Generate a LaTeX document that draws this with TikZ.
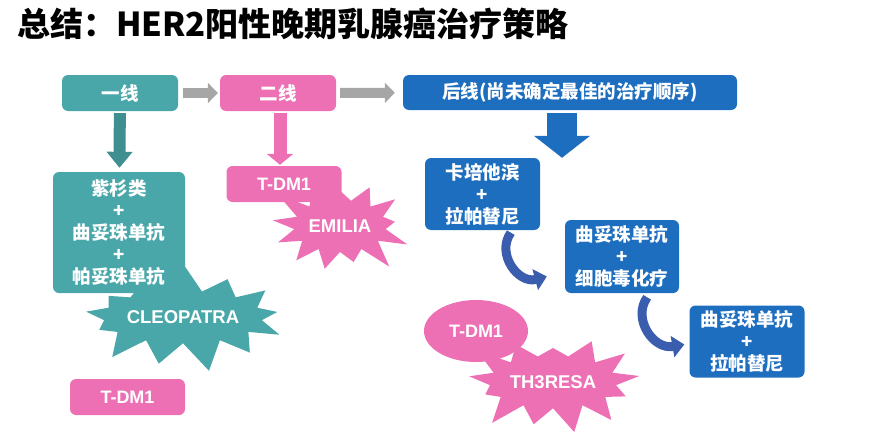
\documentclass[tikz,border=0pt]{standalone}
\usepackage{fontspec}
\setmainfont{Liberation Sans}
\newfontfamily\cjk{Noto Sans CJK SC}
\usepackage{tikz}
\usetikzlibrary{shapes.geometric,shapes.symbols,positioning,arrows.meta}
\definecolor{tealc}{HTML}{4AA7A9}
\definecolor{pinkc}{HTML}{EE70B4}
\definecolor{bluec}{HTML}{1E6EBF}
\definecolor{grayc}{HTML}{A6A6A6}
\definecolor{curvec}{HTML}{3A5DAE}
\tikzset{
 bx/.style
  = {rectangle, rounded corners=6pt, text=white, align=center, inner sep=0pt,
     font=\cjk\bfseries\fontsize{18.5}{22}\selectfont},
 tb/.style
  = {bx, fill=tealc},
 pb/.style
  = {bx, fill=pinkc},
 bb/.style
  = {bx, fill=bluec},
 lt/.style
  = {font=\bfseries\fontsize{18}{22}\selectfont},
 sb/.style
  = {starburst, starburst points=13, starburst point height=30pt, text=white,
     inner xsep=0pt, inner ysep=12pt, font=\bfseries\fontsize{18.5}{22}\selectfont},
 ga/.style
  = {draw=grayc, line width=10pt, -{Triangle[length=10pt,width=20pt]}},
 ta/.style
  = {draw=tealc!85!black, line width=12pt, -{Triangle[length=16pt,width=25pt]}},
 pa/.style
  = {draw=pinkc, line width=13pt, -{Triangle[length=11pt,width=26pt]}},
 ba/.style
  = {draw=bluec, line width=30pt, -{Triangle[length=22pt,width=55pt]}},
 ca/.style
  = {draw=curvec, line width=9pt, -{Triangle[length=12pt,width=21pt]}},
}

\begin{document}
\begin{tikzpicture}[x=1pt, y=-1pt]
    \useasboundingbox (0,0) rectangle (875,447);
    \node [anchor=west, inner sep=0pt, font=\cjk\bfseries\fontsize{33}{36}\selectfont] (title) at (17,24) {总结：HER2阳性晚期乳腺癌治疗策略};

    % top row
    \node [tb, minimum width=116pt, minimum height=36pt] (first) at (120,93) {一线};
    \node [pb, minimum width=116pt, minimum height=36pt] (second) at (278,93) {二线};
    \node [bb, minimum width=334pt, minimum height=35pt] (later) at (570,92.5) {后线(尚未确定最佳的治疗顺序)};

    % regimens
    \node [tb, minimum width=132pt, minimum height=121pt] (taxane) at (119,232.5) {紫杉类\\+\\曲妥珠单抗\\+\\帕妥珠单抗};
    \node [pb, lt, minimum width=115pt, minimum height=36pt] (tdmA) at (127.5,397) {T-DM1};
    \node [pb, lt, minimum width=115pt, minimum height=36pt] (tdmB) at (284,184) {T-DM1};
    \node [bb, minimum width=115pt, minimum height=72pt] (cape) at (482.5,194) {卡培他滨\\+\\拉帕替尼};
    \node [bb, minimum width=114pt, minimum height=73pt] (trchemo) at (622,256.5) {曲妥珠单抗\\+\\细胞毒化疗};
    \node [bb, minimum width=115pt, minimum height=72pt] (trlap) at (747,341.5) {曲妥珠单抗\\+\\拉帕替尼};
    \node [ellipse, fill=pinkc, text=white, lt, inner sep=0pt, minimum width=104pt, minimum height=62pt] (tdmC) at (476,331) {T-DM1};

    % trials
    \node [sb, fill=tealc, minimum width=193pt, minimum height=96pt, random starburst=7] (cleo) at (183,317) {CLEOPATRA};
    \node [sb, fill=pinkc, minimum width=152pt, minimum height=76pt, random starburst=3] (emilia) at (340,226) {EMILIA};
    \node [sb, fill=pinkc, minimum width=187pt, minimum height=92pt, random starburst=23] (th3) at (553,382) {TH3RESA};

    \path [ga, shorten <=5pt, shorten >=2pt] (first) -- (second);
    \path [ga, shorten <=4pt, shorten >=8pt] (second) -- (later);
    \path [ta, shorten <=2pt, shorten >=4pt] (first) -- (taxane);
    \path [pa, shorten <=2pt, shorten >=1pt] ([xshift=2pt]second.south) -- ([xshift=2pt]second.south |- tdmB.north);
    \path [ba, shorten <=3pt] ([xshift=-8pt]later.south) -- ([xshift=-8pt]later.south |- cape.north);
    \path [ca, shorten <=3pt] ([xshift=30pt]cape.south) to[out=-125, in=195, looseness=1.3] ([xshift=-18pt,yshift=-20pt]trchemo.west);
    \path [ca, shorten <=5pt] ([xshift=28pt]trchemo.south) to[out=-125, in=190, looseness=1.3] ([xshift=-5pt,yshift=-3pt]trlap.west);
  \end{tikzpicture}
\end{document}
